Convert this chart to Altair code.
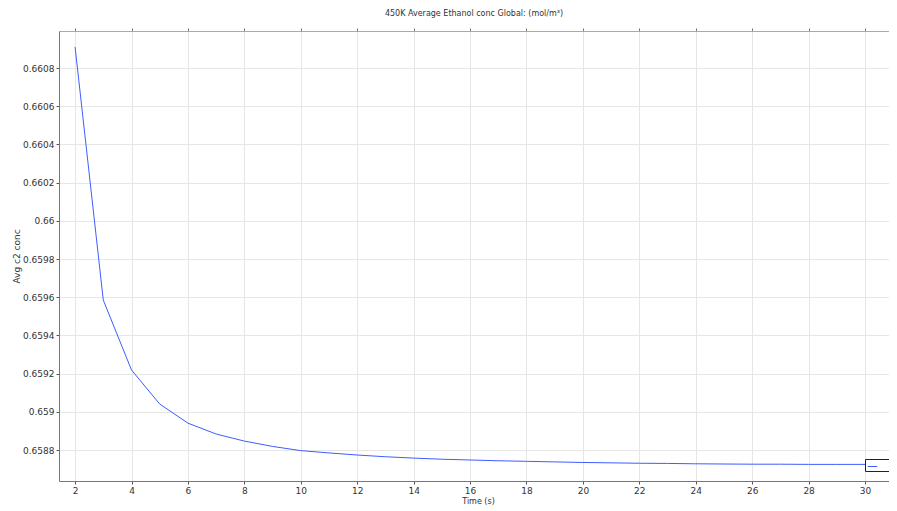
import altair as alt
import pandas as pd

time_s = list(range(2, 31))
avg_c2 = [0.66091, 0.659585, 0.659219, 0.659041, 0.658941, 0.658884, 0.658847,
          0.658819, 0.658797, 0.658785, 0.658774, 0.658765, 0.658758, 0.658752,
          0.658748, 0.658744, 0.658741, 0.658738, 0.658735, 0.658733, 0.658731,
          0.658730, 0.658728, 0.658727, 0.658726, 0.658726, 0.658725, 0.658725,
          0.658725]
series = [" "] * len(time_s)

df = pd.DataFrame({"t": time_s, "c": avg_c2, "s": series})

xs = alt.Scale(domain=[1.43, 30.85], nice=False, zero=False)
ys = alt.Scale(domain=[0.658638, 0.660994], nice=False, zero=False)
font = "DejaVu Sans"

base = alt.Chart(df)

line = base.mark_line(strokeWidth=1, clip=True).encode(
    x=alt.X("t:Q", scale=xs,
            axis=alt.Axis(orient="bottom", title="Time (s)", values=list(range(2, 31, 2)),
                          format="d", titleX=419, titleY=16, titleAlign="center",
                          titleBaseline="top")),
    y=alt.Y("c:Q", scale=ys,
            axis=alt.Axis(title="Avg c2 conc", values=[0.6588 + 0.0002 * i for i in range(11)],
                          format=".4~f", titleX=-43, titleY=225, titleAlign="center",
                          titleBaseline="middle", titleAngle=-90, titleFontSize=9)),
    color=alt.Color("s:N", scale=alt.Scale(range=["#3d5dff"]),
                    legend=alt.Legend(title=None, orient="none", legendX=806, legendY=428,
                                      symbolType="stroke", symbolSize=90, symbolStrokeWidth=1,
                                      strokeColor="#222", fillColor="white", padding=2,
                                      labelFontSize=1, labelLimit=40, labelOffset=30,
                                      cornerRadius=0, rowPadding=0)),
)

top = base.mark_line(opacity=0).encode(
    x=alt.X("t:Q", scale=xs,
            axis=alt.Axis(orient="top", labels=False, title=None, grid=False,
                          values=list(range(2, 31, 2)), tickSize=3, tickColor="#777",
                          domainColor="#aaa")),
    y=alt.Y("c:Q", scale=ys),
)

chart = alt.layer(line, top).resolve_axis(x="independent").properties(
    width=830, height=450,
    title=alt.TitleParams("450K Average Ethanol conc  Global:  (mol/m³)", fontSize=8,
                          font=font, fontWeight="normal", color="#333", anchor="middle",
                          offset=10),
    autosize=alt.AutoSizeParams(type="none"),
    padding={"left": 51, "top": 23, "right": 0, "bottom": 30},
).configure_axis(
    labelFont=font, titleFont=font, labelFontSize=9, titleFontSize=8, labelColor="#333",
    titleColor="#333", titleFontWeight="normal", gridColor="#e6e6e6", domainColor="#777",
    tickColor="#555", tickSize=3, labelPadding=2,
).configure_view(stroke=None)

chart.save("out.html", embed_options={"renderer": "svg", "actions": False})
